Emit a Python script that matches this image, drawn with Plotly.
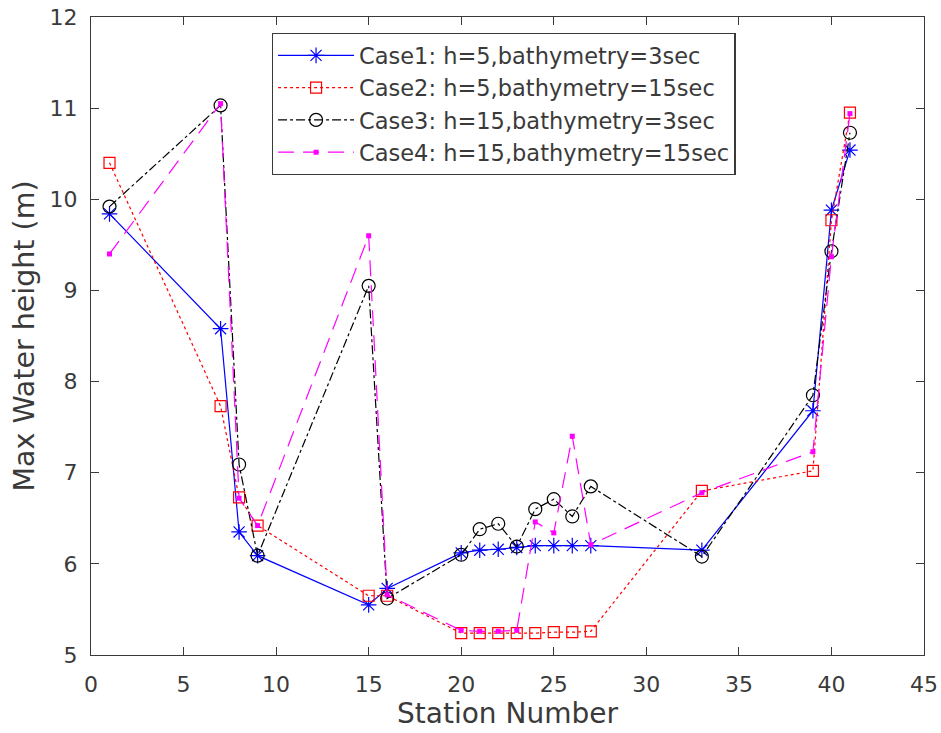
import plotly.graph_objects as go

stations = [1, 7, 8, 9, 15, 16, 20, 21, 22, 23, 24, 25, 26, 27, 33, 39, 40, 41]
case1 = [9.84, 8.58, 6.35, 6.09, 5.55, 5.73, 6.12, 6.15, 6.16, 6.18, 6.20, 6.20, 6.20, 6.20, 6.15, 7.68, 9.88, 10.54]
case2 = [10.40, 7.73, 6.73, 6.42, 5.65, 5.65, 5.24, 5.24, 5.24, 5.24, 5.24, 5.25, 5.25, 5.26, 6.80, 7.02, 9.77, 10.95]
case3 = [9.92, 11.03, 7.09, 6.09, 9.05, 5.62, 6.10, 6.38, 6.44, 6.19, 6.60, 6.71, 6.52, 6.85, 6.08, 7.85, 9.43, 10.73]
case4 = [9.40, 11.05, 6.72, 6.42, 9.60, 5.66, 5.27, 5.26, 5.26, 5.27, 6.46, 6.34, 7.40, 6.21, 6.78, 7.23, 9.37, 10.94]

names = ["Case1: h=5,bathymetry=3sec", "Case2: h=5,bathymetry=15sec",
         "Case3: h=15,bathymetry=3sec", "Case4: h=15,bathymetry=15sec"]

fig = go.Figure()
fig.add_trace(go.Scatter(x=stations, y=case1, name=names[0], mode="lines+markers",
                         line=dict(color="#0000ff", width=1.2, dash="solid"),
                         marker=dict(symbol="asterisk-open", size=13, color="#0000ff",
                                     line=dict(color="#0000ff", width=1.2))))
fig.add_trace(go.Scatter(x=stations, y=case2, name=names[1], mode="lines+markers",
                         line=dict(color="#ff0000", width=1.2, dash="dot"),
                         marker=dict(symbol="square-open", size=11, color="#ff0000",
                                     line=dict(color="#ff0000", width=1.2))))
fig.add_trace(go.Scatter(x=stations, y=case3, name=names[2], mode="lines+markers",
                         line=dict(color="#000000", width=1.2, dash="dashdot"),
                         marker=dict(symbol="circle-open", size=13, color="#000000",
                                     line=dict(color="#000000", width=1.2))))
fig.add_trace(go.Scatter(x=stations, y=case4, name=names[3], mode="lines+markers",
                         line=dict(color="#ff00ff", width=1.2, dash="16px,9px"),
                         marker=dict(symbol="square", size=5, color="#ff00ff")))

axis_common = dict(showline=True, linecolor="#3a3a3a", linewidth=1.3, mirror="ticks",
                   ticks="inside", ticklen=8, tickcolor="#3a3a3a", showgrid=False,
                   zeroline=False, automargin=False,
                   tickfont=dict(family="DejaVu Sans", size=22, color="#3a3a3a"))

fig.update_layout(
    width=941, height=733,
    margin=dict(l=91, r=17, t=17, b=78),
    paper_bgcolor="white", plot_bgcolor="white",
    font=dict(family="DejaVu Sans", color="#3a3a3a"),
    xaxis=dict(range=[0, 45], tickvals=list(range(0, 46, 5)), ticklabelstandoff=9,
               title=dict(text="Station Number", font=dict(size=28, color="#3a3a3a"), standoff=6),
               **axis_common),
    yaxis=dict(range=[5, 12], tickvals=list(range(5, 13)), ticklabelstandoff=8,
               title=dict(text="Max Water height (m)", font=dict(size=28.5, color="#3a3a3a"), standoff=6),
               **axis_common),
    legend=dict(x=0.217, y=0.975, xanchor="left", yanchor="top",
                bgcolor="white", bordercolor="#3a3a3a", borderwidth=1.3,
                font=dict(family="DejaVu Sans", size=22.5, color="#3a3a3a"),
                itemwidth=76, tracegroupgap=0),
    showlegend=True,
)

fig.write_html("out.html", config={"displayModeBar": False},
               post_script="document.body.style.margin='0';")
